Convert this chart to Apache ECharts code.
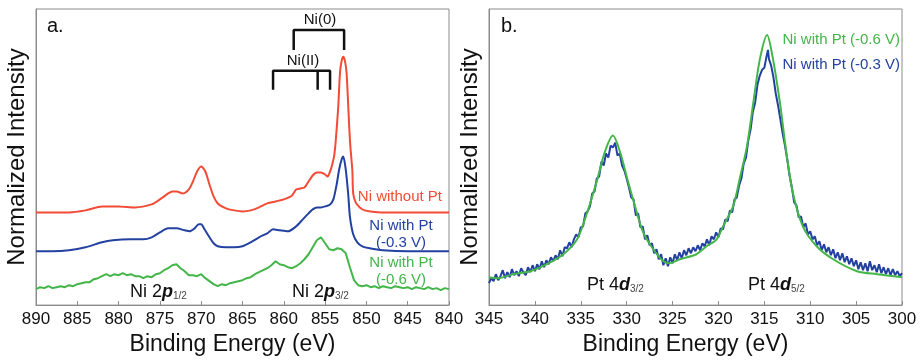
<!DOCTYPE html>
<html>
<head>
<meta charset="utf-8">
<script src="https://cdn.jsdelivr.net/npm/echarts@6/dist/echarts.min.js"></script>
<style>
  html, body { margin: 0; background: #fff; }
  #chart { width: 920px; height: 361px; }
</style>
</head>
<body>
<div id="chart"></div>
<script>
// Ni 2p region (panel a), [binding energy eV, intensity a.u.]
const niWithoutPt = [
  [890, 93], [888, 93], [886, 93], [884, 95], [882, 99], [880, 99], [878, 98], [876, 101],
  [875, 106], [874, 112], [873.5, 114], [873, 114], [872.2, 112], [871.5, 116], [871, 124],
  [870.5, 134], [870, 139], [869.5, 134], [869, 121], [868.5, 109], [868, 102], [867, 97],
  [866, 95], [865, 94], [864, 95], [863, 98], [862, 102], [861, 104], [860, 106], [859, 110],
  [858.5, 116], [858, 117], [857.5, 118], [857, 124], [856.5, 130], [856, 133], [855.5, 133],
  [855, 131], [854.7, 129], [854.4, 134], [854.2, 139], [853.9, 150], [853.7, 166], [853.4, 200],
  [853.2, 233], [853, 245], [852.8, 249], [852.6, 245], [852.4, 233], [852.2, 200], [852, 166],
  [851.8, 145], [851.7, 135], [851.6, 112], [851.3, 103], [850.8, 98], [850.2, 95], [849.5, 94],
  [848, 93], [845, 93], [840, 93]
];
const niPt03 = [
  [890, 54], [888, 54], [886, 55], [884, 58], [882, 63], [880.7, 65], [878.6, 66], [877, 66],
  [876, 68], [875, 73], [874, 77], [873, 77], [872, 75], [871.4, 74], [870.8, 77], [870.3, 81],
  [870, 81], [869.6, 76], [869, 68], [868.5, 62], [868, 59], [867, 58], [866, 58], [865, 59],
  [864, 63], [863, 68], [862, 72], [861.3, 76], [860.5, 75], [859.5, 74], [858.5, 79],
  [857.7, 86], [857, 92], [856.5, 96], [856, 98], [855.5, 98], [855, 99], [854.4, 101],
  [854, 106], [853.6, 121], [853.3, 136], [853, 146], [852.8, 149], [852.5, 136], [852.2, 111],
  [852, 89], [851.6, 71], [851.1, 63], [850.5, 59], [849.6, 57], [848, 55], [845, 54], [840, 54]
];
const niPt06 = [
  [890, 16], [889.5, 18], [889, 17], [888.5, 19], [888, 17], [887.5, 18], [887, 19], [886.5, 18],
  [886, 20], [885.5, 19], [885, 21], [884.5, 22], [884, 23], [883.5, 23], [883, 26], [882.5, 27],
  [882, 29], [881.5, 31], [881, 29], [880.5, 31], [880, 30], [879.5, 32], [879, 30], [878.5, 31],
  [878, 29], [877.5, 29], [877, 27], [876.5, 29], [876, 28], [875.5, 31], [875, 32], [874.5, 35],
  [874, 37], [873.5, 40], [873, 41], [872.5, 37], [872, 34], [871.5, 30], [871, 30], [870.5, 29],
  [870, 31], [869.5, 27], [869, 24], [868.5, 21], [868, 19], [867.5, 21], [867, 20], [866.5, 22],
  [866, 23], [865.5, 24], [865, 25], [864.5, 27], [864, 28], [863.5, 31], [863, 33], [862.5, 35],
  [862, 37], [861.5, 40], [861, 44], [860.5, 41], [860, 40], [859.5, 38], [859, 37], [858.5, 39],
  [858, 42], [857.5, 46], [857, 51], [856.5, 58], [856, 65], [855.5, 68], [855, 62], [854.5, 56],
  [854, 55], [853.5, 57], [853, 56], [852.5, 52], [852, 38], [851.5, 25], [851, 20], [850.5, 19],
  [850, 20], [849.5, 18], [849, 19], [848.5, 17], [848, 19], [847.5, 18], [847, 17], [846.5, 19],
  [846, 18], [845.5, 17], [845, 18], [844.5, 16], [844, 18], [843.5, 17], [843, 16], [842.5, 18],
  [842, 16], [841.5, 17], [841, 15], [840.5, 17], [840, 16]
];

// Pt 4d region (panel b)
const pt4dNeg06 = [
  [345, 28], [344, 27], [342.4, 31], [340.5, 34], [338.7, 41], [336.9, 51], [335.4, 66],
  [334.3, 93], [333.2, 126], [332.4, 153], [331.5, 170], [330.7, 153], [330, 129], [329.3, 106],
  [328.2, 73], [327.1, 56], [326, 44], [325.3, 42], [324.2, 46], [322.4, 51], [321.3, 59],
  [320.2, 66], [319.5, 79], [318.4, 99], [317.7, 126], [316.9, 159], [316.2, 203], [315.5, 246],
  [314.7, 271], [314.1, 249], [313.3, 203], [312.6, 153], [311.9, 113], [310.8, 79], [309.3, 59],
  [307.5, 46], [304.9, 34], [302.7, 31], [300, 28]
];
const pt4dNeg03 = [
  [345, 22], [344.75, 27], [344.5, 24], [344.25, 31], [344, 25], [343.75, 29], [343.5, 35],
  [343.25, 27], [343, 33], [342.75, 28], [342.5, 36], [342.25, 30], [342, 34], [341.75, 29],
  [341.5, 37], [341.25, 33], [341, 30], [340.75, 38], [340.5, 33], [340.25, 40], [340, 34],
  [339.75, 41], [339.5, 36], [339.25, 44], [339, 38], [338.75, 45], [338.5, 41], [338.25, 48],
  [338, 44], [337.75, 50], [337.5, 46], [337.25, 55], [337, 49], [336.75, 58], [336.5, 57],
  [336.25, 63], [336, 58], [335.75, 66], [335.5, 71], [335.25, 68], [335, 78], [334.75, 79],
  [334.5, 92], [334.25, 94], [334, 99], [333.75, 112], [333.5, 114], [333.25, 127], [333, 129],
  [332.75, 144], [332.5, 140], [332.25, 152], [332, 148], [331.75, 160], [331.5, 158],
  [331.25, 163], [331, 150], [330.75, 152], [330.5, 140], [330.25, 135], [330, 127],
  [329.75, 118], [329.5, 108], [329.25, 106], [329, 90], [328.75, 92], [328.5, 78], [328.25, 79],
  [328, 66], [327.75, 70], [327.5, 60], [327.25, 62], [327, 52], [326.75, 56], [326.5, 46],
  [326.25, 51], [326, 40], [325.75, 47], [325.5, 39], [325.25, 48], [325, 42], [324.75, 51],
  [324.5, 45], [324.25, 53], [324, 47], [323.75, 55], [323.5, 50], [323.25, 57], [323, 52],
  [322.75, 58], [322.5, 54], [322.25, 60], [322, 55], [321.75, 62], [321.5, 59], [321.25, 66],
  [321, 60], [320.75, 69], [320.5, 66], [320.25, 73], [320, 68], [319.75, 77], [319.5, 76],
  [319.25, 86], [319, 84], [318.75, 95], [318.5, 93], [318.25, 106], [318, 108], [317.75, 120],
  [317.5, 127], [317.25, 142], [317, 148], [316.75, 165], [316.5, 176], [316.25, 194],
  [316, 203], [315.75, 221], [315.5, 230], [315.25, 236], [315, 238], [314.75, 250],
  [314.6, 256], [314.5, 247], [314.25, 240], [314, 228], [313.75, 212], [313.5, 200],
  [313.25, 186], [313, 172], [312.75, 160], [312.5, 146], [312.25, 130], [312, 118],
  [311.75, 103], [311.5, 100], [311.25, 88], [311, 89], [310.75, 78], [310.5, 82], [310.25, 71],
  [310, 74], [309.75, 66], [309.5, 69], [309.25, 60], [309, 64], [308.75, 55], [308.5, 61],
  [308.25, 53], [308, 58], [307.75, 50], [307.5, 56], [307.25, 47], [307, 53], [306.75, 45],
  [306.5, 52], [306.25, 43], [306, 49], [305.75, 41], [305.5, 47], [305.25, 39], [305, 45],
  [304.75, 36], [304.5, 43], [304.25, 35], [304, 42], [303.75, 34], [303.5, 44], [303.25, 35],
  [303, 40], [302.75, 33], [302.5, 41], [302.25, 32], [302, 38], [301.75, 31], [301.5, 37],
  [301.25, 30], [301, 36], [300.75, 30], [300.5, 34], [300.25, 29], [300, 32]
];

// chemical-state brackets (data coordinates of panel a)
const niZeroBracket = [[858.8, 256], [858.8, 276], [852.7, 276], [852.7, 256]];
const niTwoBracket = [[861.3, 216], [861.3, 235], [854.4, 235], [854.4, 216]];
const niTwoLeg = [[855.9, 235], [855.9, 216]];

const xTicksA = [890, 840];
const xTicksB = [345, 300];

const RED = "#f24b36";
const BLUE = "#2341a0";
const GREEN = "#43b549";
const FRAME = "#8c8c8c";
const FONT = "Liberation Sans, Arial, sans-serif";

function makeXAxis(gridIndex, ticks) {
  return {
    gridIndex,
    type: "value",
    inverse: true,
    min: Math.min(...ticks),
    max: Math.max(...ticks),
    interval: 5,
    axisLine: { lineStyle: { color: FRAME, width: 1 } },
    axisTick: { inside: true, length: 4, lineStyle: { color: FRAME } },
    axisLabel: { color: "#111", fontSize: 17, fontFamily: FONT, margin: 6 },
    splitLine: { show: false },
    name: "Binding Energy (eV)",
    nameLocation: "middle",
    nameGap: 26,
    nameTextStyle: { color: "#111", fontSize: 23, fontFamily: FONT, padding: [0, 20, 0, 0] }
  };
}

function makeYAxis(gridIndex) {
  return {
    gridIndex,
    type: "value",
    min: 0,
    max: 297,
    axisLine: { show: true, lineStyle: { color: FRAME, width: 1 } },
    axisTick: { show: false },
    axisLabel: { show: false },
    splitLine: { show: false },
    name: "Normalized Intensity",
    nameLocation: "middle",
    nameGap: 7,
    nameTextStyle: { color: "#111", fontSize: 24, fontFamily: FONT }
  };
}

function curve(name, data, color, axis, smooth) {
  return {
    name,
    type: "line",
    xAxisIndex: axis,
    yAxisIndex: axis,
    data,
    showSymbol: false,
    smooth,
    lineStyle: { color, width: 2 },
    z: 3
  };
}

function bracket(data) {
  return {
    type: "line",
    xAxisIndex: 0,
    yAxisIndex: 0,
    data,
    showSymbol: false,
    silent: true,
    lineStyle: { color: "#111", width: 2.5 },
    z: 4
  };
}

function label(text, x, y, color, align, size) {
  return {
    type: "text",
    style: {
      text,
      x,
      y,
      fill: color,
      align: align || "left",
      verticalAlign: "middle",
      fontSize: size || 15,
      fontFamily: FONT
    }
  };
}

function peakLabel(main, em, sub, x, y) {
  return {
    type: "text",
    style: {
      text: "{n|" + main + "}{p|" + em + "}{s|" + sub + "}",
      x,
      y,
      verticalAlign: "middle",
      rich: {
        n: { fontSize: 18, fontFamily: FONT, fill: "#111" },
        p: { fontSize: 18, fontFamily: FONT, fontStyle: "italic", fontWeight: "bold", fill: "#111" },
        s: { fontSize: 10, fontFamily: FONT, fill: "#444", padding: [8, 0, 0, 0] }
      }
    }
  };
}

const chart = echarts.init(document.getElementById("chart"), null, { renderer: "canvas" });

chart.setOption({
  backgroundColor: "#fff",
  animation: false,
  grid: [
    { left: 36, right: 471, top: 9, bottom: 55, show: true, borderColor: FRAME, borderWidth: 1 },
    { left: 489, right: 18, top: 9, bottom: 55, show: true, borderColor: FRAME, borderWidth: 1 }
  ],
  xAxis: [makeXAxis(0, xTicksA), makeXAxis(1, xTicksB)],
  yAxis: [makeYAxis(0), makeYAxis(1)],
  series: [
    curve("Ni without Pt", niWithoutPt, RED, 0, 0.25),
    curve("Ni with Pt (-0.3 V)", niPt03, BLUE, 0, 0.25),
    curve("Ni with Pt (-0.6 V)", niPt06, GREEN, 0, false),
    bracket(niZeroBracket),
    bracket(niTwoBracket),
    bracket(niTwoLeg),
    curve("Ni with Pt (-0.3 V)", pt4dNeg03, BLUE, 1, false),
    curve("Ni with Pt (-0.6 V)", pt4dNeg06, GREEN, 1, 0.3)
  ],
  graphic: [
    label("a.", 47, 26, "#111", "left", 20),
    label("Ni(0)", 320, 20, "#111", "center", 15),
    label("Ni(II)", 303, 61, "#111", "center", 15),
    label("Ni without Pt", 442, 197, RED, "right"),
    label("Ni with Pt", 401, 226, BLUE, "center"),
    label("(-0.3 V)", 401, 243, BLUE, "center"),
    label("Ni with Pt", 401, 263, GREEN, "center"),
    label("(-0.6 V)", 401, 280, GREEN, "center"),
    peakLabel("Ni 2", "p", "1/2", 130, 292),
    peakLabel("Ni 2", "p", "3/2", 292, 292),
    label("b.", 501, 26, "#111", "left", 20),
    label("Ni with Pt (-0.6 V)", 900, 40, GREEN, "right"),
    label("Ni with Pt (-0.3 V)", 900, 65, BLUE, "right"),
    peakLabel("Pt 4", "d", "3/2", 587, 285),
    peakLabel("Pt 4", "d", "5/2", 748, 285)
  ]
});
</script>
</body>
</html>
